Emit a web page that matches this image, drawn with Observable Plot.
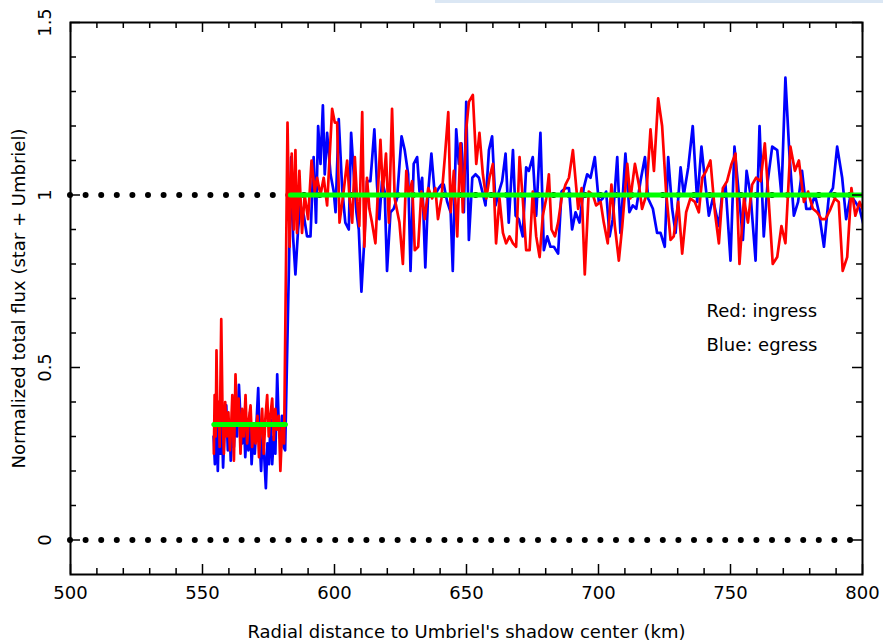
<!DOCTYPE html>
<html><head><meta charset="utf-8">
<script src="https://cdn.jsdelivr.net/npm/d3@7"></script>
<script src="https://cdn.jsdelivr.net/npm/@observablehq/plot@0.6"></script>
<style>
html,body{margin:0;padding:0;background:#fff;}
#chart{position:relative;width:883px;height:643px;}
#topline{position:absolute;left:435px;top:0;width:448px;height:3px;background:#dbe7f4;}
#chart svg{display:block;}
</style></head><body>
<div id="chart"><div id="topline"></div></div>
<script>
// Red: ingress
const redKm = [554.3,554.6,555.0,555.3,555.7,556.1,556.5,557.1,557.6,558.1,558.6,559.2,559.8,560.4,560.9,561.3,561.9,562.5,563.1,563.7,564.4,565.0,565.6,566.3,566.9,567.6,568.2,568.8,569.5,570.1,570.8,571.4,572.0,572.6,573.2,573.8,574.5,575.1,575.7,576.4,577.0,577.6,578.2,578.9,579.5,580.2,580.9,
582.2,583.0,583.8,584.6,585.2,585.8,586.7,587.7,588.7,590.0,591.3,592.5,593.4,594.7,595.9,597.2,599.1,600.1,601.0,601.9,603.3,604.8,605.7,606.7,607.7,608.6,609.4,610.5,611.3,612.3,613.2,614.2,615.5,617.4,618.3,619.5,620.6,621.8,622.8,624.6,625.9,627.2,628.1,629.4,630.4,631.7,632.9,634.2,635.5,637.0,638.2,639.2,
640.5,641.8,643.1,644.0,645.2,646.5,647.7,648.6,649.9,650.9,652.4,653.7,654.9,656.2,657.5,658.7,660.0,661.2,662.5,663.8,665.0,666.3,667.6,668.8,670.1,671.3,672.6,673.9,675.1,676.4,677.7,678.9,680.2,681.2,682.2,683.5,684.7,686.0,687.5,688.8,690.3,
692.3,693.6,694.8,696.3,697.9,699.1,700.8,702.0,703.5,704.9,706.2,707.7,709.0,710.9,712.1,713.8,715.3,716.5,718.1,719.7,721.0,722.6,724.1,725.6,727.3,728.5,730.2,731.7,733.2,734.8,736.5,738.0,739.3,740.8,742.4,744.1,
745.6,747.1,748.7,750.4,751.9,753.4,755.1,756.6,758.2,759.7,761.4,763.0,764.5,766.0,767.7,769.3,770.8,772.7,774.4,775.9,777.8,779.4,781.2,782.8,784.5,786.0,787.9,789.5,791.0,792.5,794.2,795.8,797.3,798.9,800.5];
const redFlux = [0.25,0.42,0.30,0.55,0.33,0.40,0.27,0.64,0.36,0.25,0.40,0.30,0.37,0.26,0.34,0.42,0.23,0.48,0.34,0.41,0.25,0.38,0.30,0.42,0.28,0.35,0.39,0.27,0.33,0.28,0.36,0.24,0.32,0.38,0.25,0.35,0.42,0.30,0.36,0.41,0.29,0.38,0.32,0.36,0.20,0.33,0.28,
1.21,0.85,1.12,0.90,1.13,0.89,1.07,0.89,1.00,0.93,1.10,1.01,1.05,1.00,1.05,0.97,1.25,1.21,1.21,0.92,1.00,1.10,0.99,0.92,1.11,0.98,0.91,1.24,0.85,1.05,0.96,0.92,0.86,1.16,1.01,1.12,0.92,1.25,0.99,0.92,0.80,1.07,1.00,1.04,0.84,0.85,1.01,0.93,1.02,0.99,1.02,0.93,
0.99,1.11,1.24,0.95,1.07,0.88,1.15,0.95,1.19,1.27,1.29,1.09,1.18,1.06,0.99,1.05,1.09,0.86,0.99,0.89,0.86,0.88,0.86,0.85,1.11,0.99,0.84,0.84,1.01,0.88,0.82,0.94,0.99,1.06,0.90,0.88,0.92,0.99,1.03,1.05,1.13,
0.96,1.02,0.77,1.01,1.00,0.97,0.98,0.92,0.86,1.03,0.91,0.81,0.91,1.09,0.99,1.09,1.03,0.96,1.00,1.19,1.07,1.28,1.20,1.01,0.87,0.88,0.98,0.83,0.95,0.99,0.98,0.95,1.05,1.07,1.10,0.95,
0.86,1.02,1.04,1.09,1.12,0.80,0.99,0.92,1.03,1.05,1.04,1.15,0.98,0.80,0.82,0.91,0.86,1.14,1.07,1.10,0.98,1.01,0.96,0.95,0.93,0.93,0.96,0.99,0.98,0.78,0.82,1.02,0.94,0.98,0.95];

// Blue: egress
const blueKm = [554.2,554.7,555.3,555.8,556.3,556.8,557.3,557.8,558.4,559.0,559.6,560.2,560.7,561.3,561.9,562.5,563.1,563.8,564.4,565.0,565.6,566.2,566.8,567.4,568.0,568.6,569.2,569.8,570.4,571.1,571.7,572.2,572.8,573.4,574.0,574.6,575.2,575.8,576.4,577.0,577.6,578.3,578.9,579.5,580.1,580.7,581.3,
583.6,584.3,585.2,586.2,587.1,588.4,589.6,590.9,592.1,593.0,593.8,594.7,595.6,596.3,597.2,598.5,599.7,600.4,601.6,602.9,604.1,605.4,606.3,607.3,608.3,609.2,610.2,611.3,612.3,613.6,615.1,616.1,617.0,618.0,619.0,619.9,621.2,622.4,623.7,625.4,626.6,627.9,628.8,630.0,631.3,632.2,633.2,634.4,635.5,636.7,638.0,
639.5,640.5,641.4,642.7,644.0,644.8,646.1,647.1,648.1,649.0,649.9,650.9,652.2,653.4,654.7,656.0,657.2,658.5,659.7,661.0,662.3,663.5,664.8,666.0,667.6,668.6,669.8,671.3,672.6,673.6,675.1,676.4,678.0,679.3,680.6,681.8,683.1,684.7,686.0,687.5,688.8,690.0,691.3,692.8,
694.4,695.7,697.0,698.6,700.1,701.6,702.9,704.2,705.4,707.1,708.3,710.2,711.7,713.0,714.3,715.9,717.6,718.8,720.6,722.2,723.5,725.1,726.4,727.9,729.2,731.1,732.3,734.0,735.7,737.4,739.0,740.5,741.8,743.3,
745.6,746.8,748.1,750.0,751.5,753.2,754.7,756.1,757.6,759.5,761.0,762.6,764.1,765.8,767.7,769.3,770.8,772.3,774.0,775.6,777.1,778.7,780.3,782.0,783.5,785.4,787.3,788.8,790.4,792.3,793.8,795.5,797.3,798.9,800.5];
const blueFlux = [0.30,0.22,0.38,0.20,0.36,0.25,0.35,0.21,0.33,0.39,0.26,0.34,0.23,0.31,0.27,0.36,0.30,0.45,0.35,0.28,0.37,0.24,0.33,0.26,0.37,0.22,0.30,0.25,0.33,0.44,0.28,0.20,0.31,0.24,0.15,0.28,0.22,0.35,0.22,0.30,0.25,0.48,0.33,0.29,0.36,0.27,0.26,
1.11,0.88,0.77,0.90,0.97,0.94,0.88,0.88,1.11,0.92,1.20,1.09,1.26,1.06,1.18,1.06,1.01,0.95,1.22,1.02,0.92,0.90,1.18,1.06,0.95,0.90,0.72,0.87,1.04,1.04,1.19,1.03,0.93,1.04,1.01,0.78,0.95,0.96,0.99,1.17,1.13,1.06,0.78,1.09,1.11,1.01,1.05,0.79,1.01,1.12,1.00,
1.02,1.03,1.03,0.98,0.95,0.78,1.19,1.09,1.15,0.95,1.27,0.87,1.05,1.06,1.05,1.01,0.97,1.13,1.17,0.97,1.01,1.04,1.12,0.92,1.13,0.94,0.93,0.88,1.08,1.07,1.11,0.94,1.18,0.84,0.88,0.85,0.85,0.83,1.01,1.02,1.02,0.90,0.95,0.92,
1.02,1.06,1.05,1.11,0.98,0.99,1.01,0.88,0.93,1.11,0.89,1.12,0.95,0.97,0.96,1.04,1.11,0.99,0.96,0.89,0.89,0.85,1.11,0.96,0.89,1.08,1.00,1.08,1.20,0.98,1.14,1.03,0.94,0.99,
0.91,1.00,1.03,0.81,1.14,1.00,0.87,1.07,1.00,0.81,1.20,0.88,1.04,1.14,1.13,1.00,1.34,1.12,0.94,0.98,1.07,0.96,0.96,1.00,0.95,0.85,1.00,1.02,1.14,1.05,0.93,1.00,0.98,0.96,0.91];

// Fitted levels (green)
const levelLowKm = [554.3, 581.4];
const levelLowFlux = [0.335, 0.335];
const levelHighKm = [583.3, 800];
const levelHighFlux = [1, 1];

// Dotted reference levels
const refLevels = [0, 1];

// Ticks and labels
const xMajor = [500, 550, 600, 650, 700, 750, 800];
const xMajorLabels = ["500", "550", "600", "650", "700", "750", "800"];
const xMinor = [510,520,530,540,560,570,580,590,610,620,630,640,660,670,680,690,710,720,730,740,760,770,780,790];
const yMajor = [0, 0.5, 1, 1.5];
const yMajorLabels = ["0", "0.5", "1", "1.5"];
const yMinor = [0.1,0.2,0.3,0.4,0.6,0.7,0.8,0.9,1.1,1.2,1.3,1.4];

const xTitle = "Radial distance to Umbriel's shadow center (km)";
const yTitle = "Normalized total flux (star + Umbriel)";
const legendLines = ["Red: ingress", "Blue: egress"];

const red = redKm.map((x, i) => ({x, y: redFlux[i]}));
const blue = blueKm.map((x, i) => ({x, y: blueFlux[i]}));
const low = levelLowKm.map((x, i) => ({x, y: levelLowFlux[i]}));
const high = levelHighKm.map((x, i) => ({x, y: levelHighFlux[i]}));

const W = 883, H = 643, mL = 70, mR = 21, mT = 22, mB = 69;
const pw = W - mL - mR, ph = H - mT - mB;
const FONT = "DejaVu Sans";
const txt = {fontFamily: FONT, fill: "black", fontSize: 18, lineAnchor: "middle", textAnchor: "middle"};

const plot = Plot.plot({
  width: W, height: H,
  marginLeft: mL, marginRight: mR, marginTop: mT, marginBottom: mB,
  x: {domain: [500, 800], axis: null},
  y: {domain: [-0.1, 1.5], axis: null},
  style: {background: "white", fontFamily: FONT, overflow: "visible"},
  marks: [
    Plot.ruleY(refLevels, {y: d => d, stroke: "black", strokeWidth: 6, strokeDasharray: "0,15.6", strokeLinecap: "round"}),
    Plot.line(blue, {x: "x", y: "y", stroke: "#0000ff", strokeWidth: 2.7, clip: true}),
    Plot.line(red, {x: "x", y: "y", stroke: "#ff0000", strokeWidth: 2.7, clip: true}),
    Plot.line(low, {x: "x", y: "y", stroke: "#00ff00", strokeWidth: 5}),
    Plot.line(high, {x: "x", y: "y", stroke: "#00ff00", strokeWidth: 5, clip: true}),
    // inward ticks
    Plot.ruleX(xMajor, {x: d => d, insetTop: ph - 10, stroke: "black", strokeWidth: 1.5}),
    Plot.ruleX(xMinor, {x: d => d, insetTop: ph - 6, stroke: "black", strokeWidth: 1.5}),
    Plot.ruleX(xMajor, {x: d => d, insetBottom: ph - 10, stroke: "black", strokeWidth: 1.5}),
    Plot.ruleX(xMinor, {x: d => d, insetBottom: ph - 6, stroke: "black", strokeWidth: 1.5}),
    Plot.ruleY(yMajor, {y: d => d, insetRight: pw - 10, stroke: "black", strokeWidth: 1.5}),
    Plot.ruleY(yMinor, {y: d => d, insetRight: pw - 6, stroke: "black", strokeWidth: 1.5}),
    Plot.ruleY(yMajor, {y: d => d, insetLeft: pw - 10, stroke: "black", strokeWidth: 1.5}),
    Plot.ruleY(yMinor, {y: d => d, insetLeft: pw - 6, stroke: "black", strokeWidth: 1.5}),
    Plot.frame({stroke: "black", strokeWidth: 2}),
    // tick labels
    Plot.text(xMajor, {...txt, x: d => d, text: (d, i) => xMajorLabels[i], frameAnchor: "bottom", dy: 19}),
    Plot.text(yMajor, {...txt, y: d => d, text: (d, i) => yMajorLabels[i], frameAnchor: "left", dx: -25, rotate: -90}),
    // titles
    Plot.text([xTitle], {...txt, text: d => d, frameAnchor: "bottom", dy: 58}),
    Plot.text([yTitle], {...txt, text: d => d, frameAnchor: "left", dx: -51, rotate: -90}),
    // legend
    Plot.text([legendLines[0]], {...txt, text: d => d, x: () => 740.9, y: () => 0.664, textAnchor: "start"}),
    Plot.text([legendLines[1]], {...txt, text: d => d, x: () => 740.9, y: () => 0.565, textAnchor: "start"})
  ]
});
document.getElementById("chart").appendChild(plot);
</script>
</body></html>
